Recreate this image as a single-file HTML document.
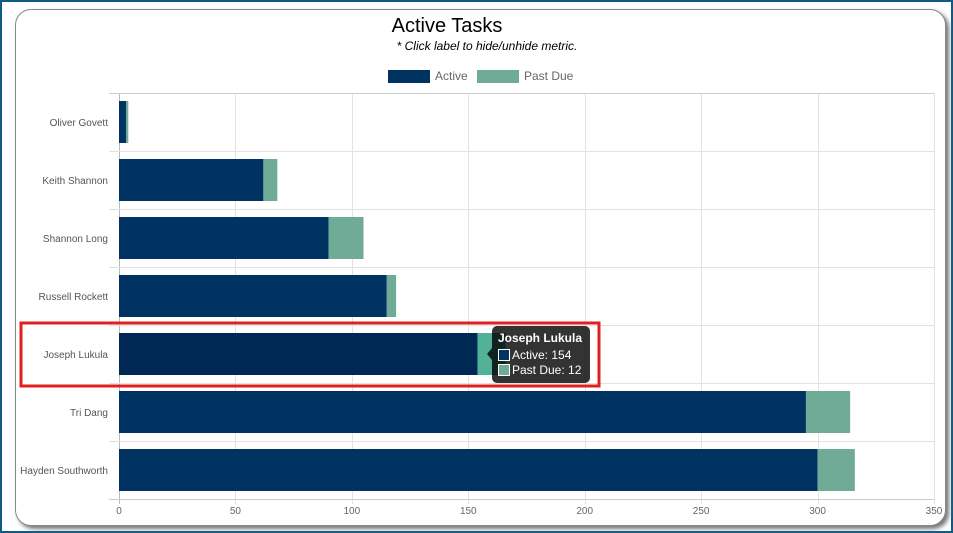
<!DOCTYPE html>
<html><head><meta charset="utf-8"><style>
body{margin:0;width:953px;height:533px;overflow:hidden;background:#fff;font-family:"Liberation Sans",sans-serif}
#frame{position:absolute;left:0;top:0;width:949px;height:529px;border:2px solid #0e5b86}
#card{position:absolute;left:15px;top:9px;width:929px;height:515px;border:1px solid #888;border-radius:16px;box-shadow:3px 3px 4px #777;background:#fff}
</style></head><body>
<div id="frame"></div>
<div id="card"></div>
<svg id="chart" width="953" height="533" style="position:absolute;left:0;top:0">
<text x="447" y="32" text-anchor="middle" font-size="20" fill="#000">Active Tasks</text>
<text x="487" y="50" text-anchor="middle" font-size="12" font-style="italic" fill="#000">* Click label to hide/unhide metric.</text>
<g id="legend">
<g><rect x="388" y="70" width="42" height="13" fill="#003262"/><text x="435" y="80" font-size="12" fill="#666">Active</text></g>
<g><rect x="477" y="70" width="42" height="13" fill="#6fab97"/><text x="524" y="80" font-size="12" fill="#666">Past Due</text></g>
</g>
<g id="grid"></g><g id="bars"></g><g id="labels"></g>
<rect x="21" y="323" width="578" height="63" fill="none" stroke="#e02020" stroke-width="3"/>
<g>
<rect x="492" y="326" width="98" height="57" rx="5" fill="rgba(0,0,0,0.8)"/>
<path d="M492 348 L487 354 L492 360Z" fill="rgba(0,0,0,0.8)"/>
<text x="498" y="342" font-size="12" font-weight="bold" fill="#fff">Joseph Lukula</text>
<rect x="498.5" y="349.5" width="11" height="11" fill="#003262" stroke="#fff" stroke-width="1"/>
<text x="512" y="359" font-size="12" fill="#fff">Active: 154</text>
<rect x="498.5" y="364.5" width="11" height="11" fill="#6fab97" stroke="#fff" stroke-width="1"/>
<text x="512" y="374" font-size="12" fill="#fff">Past Due: 12</text>
</g>
</svg>
<script>
const categories=["Oliver Govett","Keith Shannon","Shannon Long","Russell Rockett","Joseph Lukula","Tri Dang","Hayden Southworth"];
const activeValues=[3,62,90,115,154,295,300];
const pastDueValues=[1,6,15,4,12,19,16];
const xTicks=[0,50,100,150,200,250,300,350];
const NS="http://www.w3.org/2000/svg";
const x0=119,x1=934,plotTop=93,plotBottom=499,xMax=350;
const xs=v=>x0+v/xMax*(x1-x0);
const rowH=(plotBottom-plotTop)/categories.length;
function mk(tag,attrs,parent){const e=document.createElementNS(NS,tag);for(const k in attrs)e.setAttribute(k,attrs[k]);parent.appendChild(e);return e;}
const grid=document.getElementById('grid'),bars=document.getElementById('bars'),labels=document.getElementById('labels');
xTicks.forEach(t=>{
 const X=Math.round(xs(t))+0.5;
 const l=mk('line',{x1:X,x2:X,y1:plotTop,y2:plotBottom+5,stroke:t===0?'#bbb':'#e2e2e2'},grid);
 
 
 const tx=mk('text',{x:xs(t),y:plotBottom+15,'text-anchor':'middle','font-size':10,fill:'#666'},labels);
 tx.textContent=t;
 
 
});
for(let i=0;i<=categories.length;i++){
 const Y=Math.round(plotTop+i*rowH)+0.5;
 const l=mk('line',{x1:109,x2:x1,y1:Y,y2:Y,stroke:(i===0||i===categories.length)?'#ccc':'#e2e2e2'},grid);
 
 
}
categories.forEach((c,i)=>{
 const y=plotTop+i*rowH+8,h=rowH-16;
 const hl=i===4;
 const a=mk('rect',{x:xs(0),y:y,width:xs(activeValues[i])-xs(0),height:h,fill:hl?'#002855':'#003262'},bars);
 
 
 const p=mk('rect',{x:xs(activeValues[i]),y:y,width:xs(activeValues[i]+pastDueValues[i])-xs(activeValues[i]),height:h,fill:hl?'#52b196':'#6fab97'},bars);
 
 
 const t=mk('text',{x:108,y:plotTop+(i+0.5)*rowH+4,'text-anchor':'end','font-size':10,fill:'#555'},labels);
 t.textContent=c;
 
 
});
</script>
</body></html>
